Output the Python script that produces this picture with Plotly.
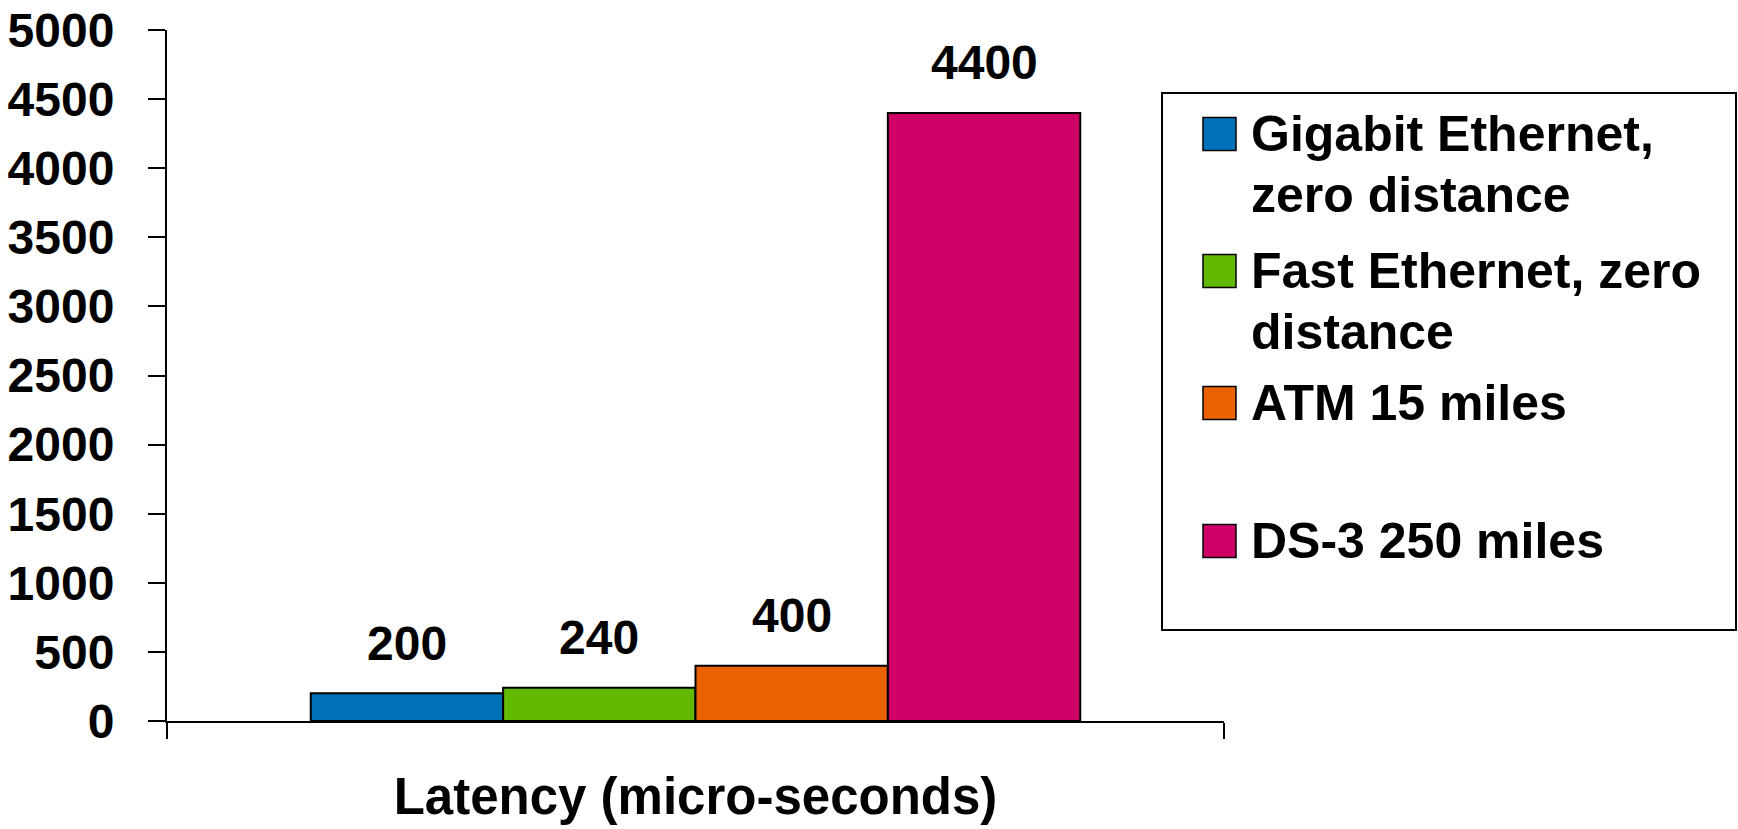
import plotly.graph_objects as go

# ---------------- data ----------------
category = ["Latency (micro-seconds)"]
series_names = [
    "Gigabit Ethernet, zero distance",
    "Fast Ethernet, zero distance",
    "ATM 15 miles",
    "DS-3 250 miles",
]
legend_lines = [
    ["Gigabit Ethernet,", "zero distance"],
    ["Fast Ethernet, zero", "distance"],
    ["ATM 15 miles"],
    ["DS-3 250 miles"],
]
values = [200, 240, 400, 4400]
colors = ["#0071B8", "#63B800", "#EA6100", "#CE0066"]
y_ticks = [0, 500, 1000, 1500, 2000, 2500, 3000, 3500, 4000, 4500, 5000]

# ---------------- layout constants ----------------
W, H = 1738, 829
PLOT_L, PLOT_R, PLOT_T, PLOT_B = 167, 1224, 30, 721
ML, MT, MR, MB = PLOT_L, PLOT_T, W - PLOT_R, H - PLOT_B
BARGAP = 0.272
FONT = "Liberation Sans, Arial, Helvetica, sans-serif"
PW, PH = W - ML - MR, H - MT - MB


def px2x(px):
    return (px - PLOT_L) / PW


def py2y(py):
    return (PLOT_B - py) / PH


fig = go.Figure()
for name, v, c in zip(series_names, values, colors):
    fig.add_bar(
        x=category, y=[v], name=name, showlegend=False,
        marker=dict(color=c, line=dict(color="black", width=2)),
    )

# value labels above bars
n = len(values)
slot = (1 - BARGAP) / n
for i, v in enumerate(values):
    xc = -(1 - BARGAP) / 2 + (i + 0.5) * slot
    fig.add_annotation(
        x=xc, y=v, xref="x", yref="y", text=str(v), showarrow=False,
        xanchor="center", yanchor="middle", yshift=50,
        font=dict(family=FONT, size=48, color="black", weight="bold"),
    )

# manual legend box (pixel positions)
LEG_L, LEG_T, LEG_R, LEG_B = 1162, 93, 1736, 630
fig.add_shape(
    type="rect", xref="paper", yref="paper",
    x0=px2x(LEG_L), x1=px2x(LEG_R), y0=py2y(LEG_B), y1=py2y(LEG_T),
    line=dict(color="black", width=2), fillcolor="white", layer="below",
)
entry_centers = [134, 271, 403, 541]
LINE_STEP = 61
SQ = 33
SQ_L = 1203
TXT_L = 1249
for lines, c, yc in zip(legend_lines, colors, entry_centers):
    fig.add_shape(
        type="rect", xref="paper", yref="paper",
        x0=px2x(SQ_L), x1=px2x(SQ_L + SQ),
        y0=py2y(yc + SQ / 2), y1=py2y(yc - SQ / 2),
        line=dict(color="black", width=1.5), fillcolor=c,
    )
    for k, line in enumerate(lines):
        fig.add_annotation(
            x=px2x(TXT_L), y=py2y(yc + k * LINE_STEP), xref="paper", yref="paper",
            text=line, showarrow=False, xanchor="left", yanchor="middle",
            font=dict(family=FONT, size=50, color="black", weight="bold"),
        )

fig.update_layout(
    width=W, height=H,
    margin=dict(l=ML, r=MR, t=MT, b=MB, pad=0, autoexpand=False),
    paper_bgcolor="white", plot_bgcolor="white",
    barmode="group", bargap=BARGAP, bargroupgap=0,
    showlegend=False, hovermode=False,
    font=dict(family=FONT, color="black"),
)
fig.update_xaxes(
    type="category", range=[-0.5, 0.5], tickson="boundaries", automargin=False,
    ticks="outside", ticklen=16, tickwidth=2, tickcolor="black",
    showline=True, linecolor="black", linewidth=2, showgrid=False,
    tickfont=dict(family=FONT, size=51, color="black", weight="bold"),
    ticklabelstandoff=30, ticklabeloverflow="allow",
)
fig.update_yaxes(
    range=[0, 5000], tickmode="array", tickvals=y_ticks, automargin=False,
    ticktext=[str(t) for t in y_ticks],
    ticks="outside", ticklen=17, tickwidth=2, tickcolor="black",
    showline=True, linecolor="black", linewidth=2, showgrid=False, zeroline=False,
    tickfont=dict(family=FONT, size=48, color="black", weight="bold"),
    ticklabelstandoff=24, ticklabeloverflow="allow",
)

# remove the default 8px page margin so the figure fills the window exactly
fig.write_html(
    "out.html",
    config={"displayModeBar": False, "responsive": False},
    post_script="document.body.style.margin='0';document.body.style.overflow='hidden';",
)
